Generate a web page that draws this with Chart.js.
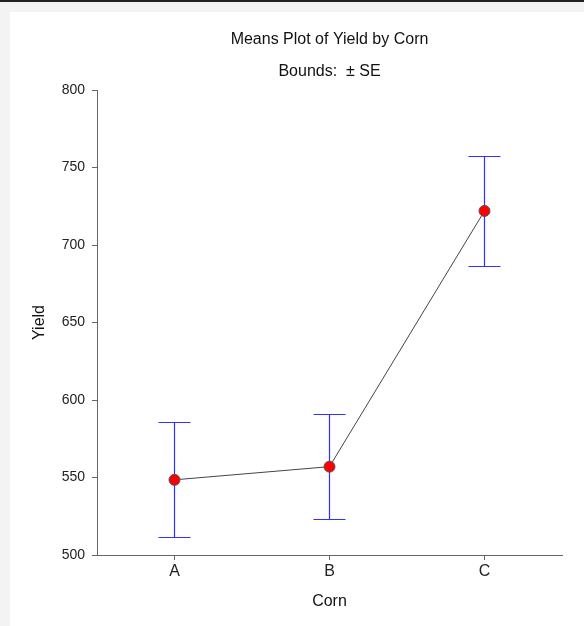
<!DOCTYPE html>
<html>
<head>
<meta charset="utf-8">
<script src="https://cdn.jsdelivr.net/npm/chart.js@4"></script>
<style>
  html, body { margin: 0; padding: 0; }
  body { width: 584px; height: 626px; background: #f3f3f3; position: relative; overflow: hidden; }
  #topbar { position: absolute; left: 0; top: 0; width: 584px; height: 2px; background: #222; }
  #panel { position: absolute; left: 10px; top: 12px; width: 574px; height: 614px; background: #fff; }
  #wrap { position: absolute; left: 0; top: 0; width: 584px; height: 626px; }
</style>
</head>
<body>
<div id="topbar"></div>
<div id="panel"></div>
<div id="wrap"><canvas id="chart"></canvas></div>
<script>
// ---------------------------------------------------------------------------
// Data
// ---------------------------------------------------------------------------
const categories = ['A', 'B', 'C'];
const means      = [548.5, 557, 722];
const upperSE    = [585.5, 591, 757.5];
const lowerSE    = [511.5, 523, 686.5];
const yTicks     = [500, 550, 600, 650, 700, 750, 800];
const titleLines = ['Means Plot of Yield by Corn', 'Bounds:  \u00b1 SE'];

const FONT = 'Arial, "Liberation Sans", sans-serif';
const AXIS_COLOR = '#666';
const BAR_COLOR = '#3030ff';

// error bars drawn through the chart's own scales
const errorBarPlugin = {
  id: 'errorBars',
  beforeDatasetsDraw(chart) {
    const { ctx, scales: { x, y } } = chart;
    categories.forEach((c, i) => {
      const px = x.getPixelForValue(i);
      const top = Math.round(y.getPixelForValue(upperSE[i])) + 0.5;
      const bot = Math.round(y.getPixelForValue(lowerSE[i])) + 0.5;
      ctx.save();
      ctx.strokeStyle = BAR_COLOR;
      ctx.lineWidth = 1.2;
      ctx.setLineDash([]);
      ctx.beginPath();
      ctx.moveTo(px, top); ctx.lineTo(px, bot);
      ctx.stroke();
      ctx.lineWidth = 1;
      ctx.beginPath();
      ctx.moveTo(px - 16, top); ctx.lineTo(px + 16, top);
      ctx.moveTo(px - 16, bot); ctx.lineTo(px + 16, bot);
      ctx.stroke();
      ctx.restore();
    });
  },
};

// title + subtitle centred over the plot area
const plotTitlePlugin = {
  id: 'plotTitle',
  afterDraw(chart) {
    const { ctx, chartArea } = chart;
    const cx = (chartArea.left + chartArea.right) / 2;
    ctx.save();
    ctx.fillStyle = '#111';
    ctx.textAlign = 'center';
    ctx.textBaseline = 'middle';
    ctx.font = '16px ' + FONT;
    ctx.fillText(titleLines[0], cx, 40);
    ctx.fillText(titleLines[1], cx, 72);
    ctx.restore();
  },
};

new Chart(document.getElementById('chart'), {
  type: 'line',
  data: {
    labels: categories,
    datasets: [{
      data: means,
      borderColor: '#444',
      borderWidth: 1,
      pointRadius: 5.5,
      pointBackgroundColor: '#ff0000',
      pointBorderColor: '#555',
      pointBorderWidth: 1,
      tension: 0,
    }],
  },
  plugins: [errorBarPlugin, plotTitlePlugin],
  options: {
    responsive: true,
    maintainAspectRatio: false,
    animation: false,
    layout: { padding: { top: 90, right: 22, bottom: 0, left: 0 } },
    plugins: {
      legend: { display: false },
      tooltip: { enabled: false },
      title: { display: false },
    },
    scales: {
      x: {
        type: 'category',
        offset: true,
        grid: { drawOnChartArea: false, drawTicks: true, tickLength: 5, color: AXIS_COLOR },
        border: { color: AXIS_COLOR, width: 1 },
        ticks: { color: '#222', padding: 2, font: { family: FONT, size: 16 } },
        title: {
          display: true, text: 'Corn', color: '#111',
          font: { family: FONT, size: 16 },
          padding: { top: 10, bottom: 15 },
        },
        afterFit(scale) { scale.height = 71; },
      },
      y: {
        min: 500,
        max: 800,
        afterBuildTicks(scale) { scale.ticks = yTicks.map(v => ({ value: v })); },
        grid: { drawOnChartArea: false, drawTicks: true, tickLength: 5, color: AXIS_COLOR },
        border: { color: AXIS_COLOR, width: 1 },
        ticks: { color: '#222', padding: 7, font: { family: FONT, size: 14 } },
        title: {
          display: true, text: 'Yield', color: '#111',
          font: { family: FONT, size: 16 },
          padding: { top: 30, bottom: 10 },
        },
        afterFit(scale) { scale.width = 97; },
      },
    },
  },
});
</script>
</body>
</html>
